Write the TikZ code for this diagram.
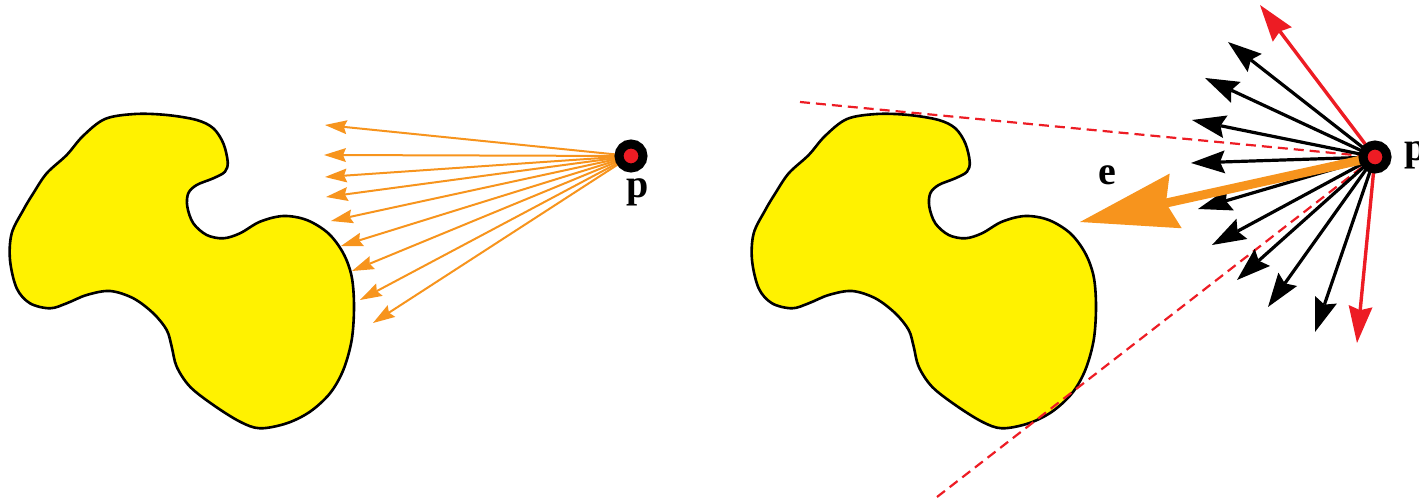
\documentclass[tikz,border=0pt]{standalone}
\usepackage{fontspec}
\setmainfont{Liberation Serif}
\usetikzlibrary{arrows.meta}
\definecolor{aiorange}{HTML}{F7941D}
\definecolor{aired}{HTML}{ED1C24}
\definecolor{aiyellow}{HTML}{FFF200}
\tikzset{
  blob/.style={fill=aiyellow,draw=black,line width=1.3pt,line join=round},
  raylight/.style={draw=aiorange,line width=1pt,-{Stealth[length=11pt,width=7pt,inset=1.5pt,line width=0pt]}},
  rayblack/.style={draw=black,line width=1.6pt,-{Stealth[length=17pt,width=11.5pt,inset=2.5pt,line width=0pt]}},
  rayred/.style={draw=aired,line width=1.7pt,-{Stealth[length=18.5pt,width=12pt,inset=2pt,line width=0pt]}},
  tangent/.style={draw=aired,line width=1.1pt,dash pattern=on 5pt off 3pt},
  bigray/.style={draw=aiorange,line width=4.5pt,-{Stealth[length=49pt,width=28pt,inset=5pt,line width=0pt]}},
  pdot/.style={circle,fill=aired,draw=black,line width=4.5pt,minimum size=12pt,inner sep=0pt},
  lab/.style={font=\fontsize{20pt}{20pt}\selectfont\bfseries,anchor=base,inner sep=0pt}
}
\def\blobpath{plot[smooth cycle,tension=0.55] coordinates {
(105,119) (135,114) (166.7,115) (196.7,120) (213.3,128.3) (223.3,143.3)
(227.7,161.7) (225,171.7) (213.3,178.3) (196.7,185) (188.3,193.3) (187.3,206.7)
(193.3,223.3) (206.7,235) (223.3,238.3) (240,233.3) (260,221.7) (283.3,216)
(306.7,220) (328.3,233.3) (343.3,253.3) (351.7,276.7) (354,306.7) (351.7,340)
(343.3,370) (330,393.3) (310,411.7) (286.7,423.3) (260,428.3) (240,421.7)
(213.3,405) (190,386.7) (176.7,366.7) (171.7,346.7) (166.7,330) (153.3,313.3)
(133.3,298.3) (110,291) (86.7,295) (66.7,303.3) (50,308.3) (30,303.3)
(16.7,288.3) (10,260) (11.7,233.3) (23.3,210) (33.3,193.3) (46.7,173.3)
(66.7,155) (83,136)}}
\begin{document}
\begin{tikzpicture}[x=0.5pt,y=-0.5pt]
\useasboundingbox (0,0) rectangle (1419,501);
% ---------- left panel ----------
\path[blob] \blobpath;
\coordinate (pLc) at (631,156);
\foreach \i/\x/\y in {1/325/125,2/324/155,3/325/177,4/326/197,5/331/221,6/341/246,7/352/271,8/360/300,9/373/323}{
  \coordinate (l\i) at (\x,\y);
  \draw[raylight] (pLc) -- (l\i);
}
\node[pdot] (pL) at (pLc) {};
\node[lab] (pLlab) at (638,198) {p};
% ---------- right panel ----------
\begin{scope}[shift={(742,0)}]
\path[blob] \blobpath;
\end{scope}
\coordinate (pRc) at (1375,157);
\coordinate (t1) at (800,102);
\coordinate (t2) at (937,497);
\draw[tangent] (t1) -- (pRc);
\draw[tangent] (t2) -- (pRc);
\foreach \i/\x/\y in {1/1228/42,2/1205/78,3/1192/120,4/1191/163,5/1198/209,6/1212/245,7/1237/280,8/1268/307,9/1315/332}{
  \coordinate (r\i) at (\x,\y);
  \draw[rayblack] (pRc) -- (r\i);
}
\coordinate (rtop) at (1260,5);
\coordinate (rbot) at (1357,343);
\draw[rayred] (pRc) -- (rtop);
\draw[rayred] (pRc) -- (rbot);
\coordinate (etip) at (1080,222);
\draw[bigray] (pRc) -- (etip);
\node[pdot] (pR) at (pRc) {};
\node[lab] (pRlab) at (1416,161) {p};
\node[lab] (elab) at (1107,185) {e};
\end{tikzpicture}
\end{document}
